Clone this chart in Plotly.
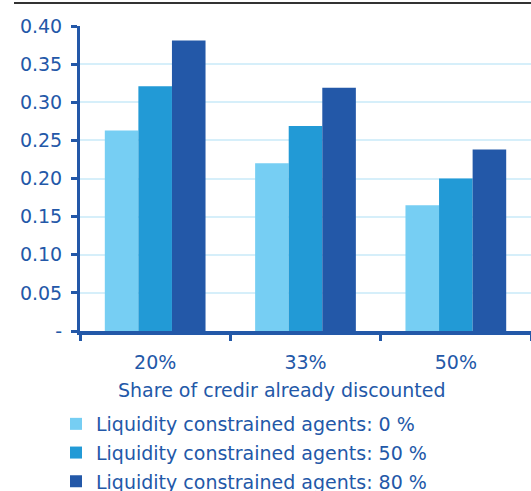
import plotly.graph_objects as go

categories = ["20%", "33%", "50%"]
series_names = ["Liquidity constrained agents: 0 %",
                "Liquidity constrained agents: 50 %",
                "Liquidity constrained agents: 80 %"]
values_0 = [0.263, 0.220, 0.165]
values_50 = [0.321, 0.269, 0.200]
values_80 = [0.381, 0.319, 0.238]
colors = ["#76CEF3", "#229AD6", "#2358A8"]
ytickvals = [0, 0.05, 0.10, 0.15, 0.20, 0.25, 0.30, 0.35, 0.40]
yticktext = ["-", "0.05", "0.10", "0.15", "0.20", "0.25", "0.30", "0.35", "0.40"]
xtitle = "Share of credir already discounted"

TXT = "#2358A8"
FONT = "DejaVu Sans"
FS = 19

fig = go.Figure()
for i, (name, vals) in enumerate(zip(series_names, [values_0, values_50, values_80])):
    fig.add_trace(go.Bar(x=categories, y=vals, name=name, marker_color=colors[i],
                         marker_line_width=0, legendgroup=f"g{i}"))

W, H = 531, 491
L, R, T, B = 80, 0, 26, 160
pw, ph = W - L - R, H - T - B

fig.update_layout(
    width=W, height=H,
    margin=dict(l=L, r=R, t=T, b=B, autoexpand=False),
    barmode="group", bargap=0.33, bargroupgap=0,
    plot_bgcolor="white", paper_bgcolor="white",
    font=dict(family=FONT, size=FS, color=TXT),
    legend=dict(x=(56 - L) / pw, xanchor="left", y=(H - B - 405) / ph, yanchor="top",
                font=dict(family=FONT, size=FS, color=TXT), tracegroupgap=1,
                bgcolor="rgba(0,0,0,0)"),
    showlegend=True,
)

fig.update_yaxes(range=[0, 0.40], tickvals=ytickvals, ticktext=yticktext,
                 showline=True, linecolor=TXT, linewidth=3,
                 ticks="outside", ticklen=6, tickwidth=3, tickcolor=TXT,
                 showgrid=True, gridcolor="#D6EFFA", gridwidth=2,
                 tickfont=dict(family=FONT, size=FS, color=TXT), zeroline=False,
                 ticklabelstandoff=5, automargin=False)
fig.update_xaxes(showline=True, linecolor=TXT, linewidth=4,
                 ticks="outside", tickson="boundaries", ticklen=6, tickwidth=3, tickcolor=TXT,
                 tickfont=dict(family=FONT, size=FS, color=TXT), ticklabelstandoff=11,
                 automargin=False)

fig.add_annotation(text=xtitle, xref="paper", yref="paper",
                   x=(282 - L) / pw, y=(H - B - 390) / ph, xanchor="center", yanchor="middle",
                   showarrow=False, font=dict(family=FONT, size=FS, color=TXT))
fig.add_shape(type="line", xref="paper", yref="paper",
              x0=(14 - L) / pw, x1=1, y0=(H - B - 3) / ph, y1=(H - B - 3) / ph,
              line=dict(color="#333333", width=2))

fig.write_html("out.html", config={"displayModeBar": False},
               post_script="document.body.style.margin='0';document.body.style.overflow='hidden';")
